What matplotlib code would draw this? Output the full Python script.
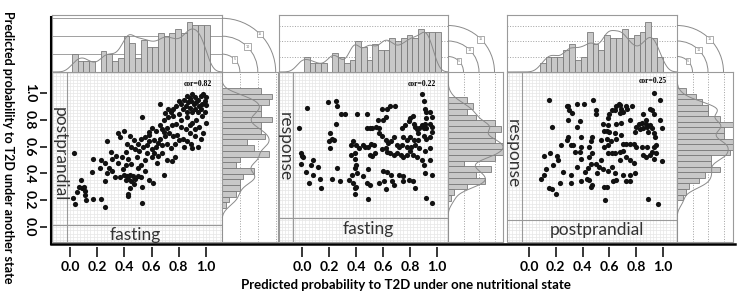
import numpy as np
import matplotlib
matplotlib.use("Agg")
from matplotlib import pyplot as plt
from matplotlib.lines import Line2D
from matplotlib.patches import Rectangle, Arc

plt.rcParams['font.family'] = ['Lato', 'DejaVu Sans']

# ---- data ----
tick_vals = [0.0, 0.2, 0.4, 0.6, 0.8, 1.0]
tick_labels = ['0.0', '0.2', '0.4', '0.6', '0.8', '1.0']
level_counts = [5, 10, 15]

# fasting (x) vs postprandial (y)
p1_pts = np.array([
    (0.86,0.98),(0.88,0.96),(0.90,0.99),(0.92,0.97),(0.94,0.95),(0.96,0.98),(0.98,0.99),(1.00,0.97),
    (0.99,0.94),(0.97,0.92),(0.95,0.90),(0.93,0.93),(0.91,0.92),(0.89,0.94),(0.87,0.93),(0.84,0.95),
    (0.82,0.92),(0.80,0.94),(0.85,0.90),(0.88,0.89),(0.92,0.88),(0.96,0.88),(1.00,0.91),(0.99,0.86),
    (0.94,0.86),(0.90,0.86),(0.86,0.86),(0.83,0.88),(0.78,0.90),(0.76,0.88),(0.74,0.86),(0.72,0.88),
    (0.70,0.85),(0.66,0.92),(0.69,0.80),(0.72,0.82),(0.76,0.83),(0.80,0.84),(0.82,0.80),(0.86,0.82),
    (0.90,0.78),(0.93,0.80),(0.97,0.83),(1.00,0.78),(0.95,0.75),(0.92,0.73),(0.88,0.76),(0.85,0.73),
    (0.82,0.75),(0.78,0.77),(0.75,0.76),(0.71,0.74),(0.68,0.73),(0.66,0.76),(0.63,0.72),(0.60,0.74),
    (0.58,0.71),(0.79,0.69),(0.76,0.68),(0.73,0.70),(0.70,0.68),(0.66,0.66),(0.62,0.65),(0.58,0.64),
    (0.55,0.67),(0.52,0.66),(0.50,0.62),(0.47,0.65),(0.44,0.68),(0.40,0.72),(0.37,0.67),(0.35,0.70),
    (0.42,0.62),(0.45,0.60),(0.48,0.58),(0.51,0.57),(0.54,0.60),(0.57,0.61),(0.60,0.58),(0.63,0.60),
    (0.65,0.63),(0.68,0.61),(0.71,0.62),(0.74,0.59),(0.77,0.62),(0.80,0.65),(0.83,0.66),(0.86,0.64),
    (0.89,0.62),(0.84,0.60),(0.90,0.59),(0.94,0.60),(0.96,0.66),(0.98,0.70),(0.88,0.70),(0.92,0.68),
    (0.62,0.55),(0.65,0.53),(0.68,0.55),(0.71,0.50),(0.75,0.49),(0.77,0.52),(0.60,0.52),(0.57,0.55),
    (0.55,0.50),(0.64,0.48),(0.69,0.39),(0.53,0.82),(0.58,0.69),(0.69,0.71),(0.41,0.56),(0.43,0.51),
    (0.45,0.47),(0.41,0.46),(0.39,0.43),(0.35,0.48),(0.31,0.51),(0.30,0.56),(0.26,0.48),(0.29,0.44),
    (0.27,0.40),(0.31,0.42),(0.33,0.37),(0.37,0.37),(0.40,0.39),(0.42,0.38),(0.44,0.39),(0.46,0.38),
    (0.48,0.36),(0.50,0.38),(0.52,0.37),(0.43,0.36),(0.41,0.35),(0.45,0.34),(0.47,0.32),(0.44,0.29),
    (0.43,0.25),(0.43,0.23),(0.50,0.44),(0.52,0.46),(0.55,0.42),(0.53,0.30),(0.58,0.35),(0.61,0.33),
    (0.53,0.18),(0.26,0.34),(0.22,0.44),(0.23,0.50),(0.17,0.51),(0.16,0.41),(0.27,0.64),(0.34,0.53),
    (0.49,0.52),(0.38,0.52),(0.03,0.55),(0.02,0.22),(0.04,0.17),(0.05,0.26),(0.07,0.30),(0.08,0.35),
    (0.09,0.29),(0.11,0.27),(0.11,0.24),(0.12,0.20),(0.17,0.21),(0.23,0.21),(0.26,0.15),(0.10,0.30)])

# fasting (x) vs response (y)
p2_pts = np.array([
    (-0.02,0.74),(0.04,0.89),(-0.01,0.55),(0.00,0.53),(0.01,0.52),(-0.01,0.47),(0.03,0.41),(0.05,0.33),
    (0.08,0.50),(0.07,0.46),(0.08,0.39),(0.12,0.45),(0.13,0.36),(0.14,0.29),(0.19,0.93),(0.25,0.94),
    (0.26,0.90),(0.29,0.84),(0.32,0.84),(0.25,0.77),(0.21,0.70),(0.22,0.66),(0.24,0.65),(0.20,0.64),
    (0.21,0.59),(0.26,0.44),(0.22,0.36),(0.28,0.34),(0.35,0.35),(0.37,0.39),(0.39,0.44),(0.40,0.46),
    (0.41,0.40),(0.38,0.33),(0.39,0.29),(0.40,0.30),(0.39,0.25),(0.36,0.61),(0.38,0.64),(0.40,0.61),
    (0.42,0.59),(0.39,0.55),(0.36,0.54),(0.39,0.51),(0.41,0.84),(0.48,0.84),(0.48,0.74),(0.50,0.74),
    (0.52,0.74),(0.55,0.75),(0.56,0.80),(0.57,0.74),(0.45,0.61),(0.47,0.60),(0.49,0.60),(0.51,0.62),
    (0.53,0.61),(0.54,0.55),(0.52,0.53),(0.50,0.54),(0.49,0.43),(0.45,0.38),(0.48,0.33),(0.50,0.31),
    (0.49,0.21),(0.57,0.33),(0.61,0.34),(0.59,0.88),(0.63,0.88),(0.65,0.90),(0.69,0.90),(0.62,0.82),
    (0.60,0.80),(0.57,0.70),(0.59,0.68),(0.62,0.65),(0.64,0.63),(0.66,0.64),(0.68,0.67),(0.70,0.61),
    (0.72,0.60),(0.59,0.58),(0.62,0.59),(0.63,0.56),(0.65,0.55),(0.68,0.54),(0.70,0.55),(0.73,0.54),
    (0.75,0.52),(0.78,0.54),(0.80,0.57),(0.60,0.42),(0.63,0.41),(0.66,0.39),(0.67,0.34),(0.72,0.39),
    (0.75,0.38),(0.75,0.34),(0.79,0.35),(0.82,0.34),(0.84,0.29),(0.74,0.74),(0.76,0.76),(0.79,0.79),
    (0.80,0.81),(0.82,0.83),(0.83,0.77),(0.84,0.75),(0.85,0.73),(0.86,0.70),(0.87,0.74),(0.89,0.76),
    (0.90,0.74),(0.91,0.77),(0.92,0.74),(0.95,0.77),(0.96,0.75),(0.96,0.71),(0.95,0.67),(0.92,0.66),
    (0.90,0.68),(0.86,0.65),(0.83,0.65),(0.80,0.67),(0.78,0.65),(0.75,0.67),(0.74,0.61),(0.78,0.60),
    (0.81,0.60),(0.84,0.61),(0.87,0.59),(0.91,0.57),(0.95,0.59),(0.82,0.54),(0.85,0.52),(0.89,0.50),
    (0.90,0.46),(0.95,0.50),(0.96,0.39),(0.91,0.40),(0.89,0.99),(0.90,0.94),(0.91,0.88),(0.95,0.86),
    (0.96,0.82),(0.92,0.86),(0.92,0.81),(0.92,0.22),(0.96,0.18),(0.62,0.28),(0.68,0.31)])

# postprandial (x) vs response (y)
p3_pts = np.array([
    (0.93,1.00),(0.98,0.95),(0.15,0.95),(0.48,0.95),(0.28,0.90),(0.29,0.90),(0.36,0.92),(0.41,0.92),
    (0.30,0.87),(0.32,0.85),(0.50,0.87),(0.50,0.84),(0.67,0.92),(0.68,0.91),(0.65,0.90),(0.64,0.87),
    (0.69,0.88),(0.72,0.90),(0.73,0.88),(0.77,0.90),(0.70,0.86),(0.68,0.85),(0.62,0.87),(0.60,0.84),
    (0.29,0.80),(0.38,0.79),(0.36,0.75),(0.55,0.77),(0.59,0.81),(0.59,0.76),(0.65,0.77),(0.69,0.78),
    (0.75,0.80),(0.85,0.84),(0.87,0.80),(0.90,0.88),(0.92,0.87),(0.93,0.84),(0.98,0.80),(0.17,0.75),
    (0.80,0.75),(0.82,0.77),(0.84,0.78),(0.87,0.77),(0.88,0.75),(0.90,0.76),(0.92,0.74),(0.85,0.74),
    (0.83,0.73),(0.79,0.71),(0.89,0.71),(0.93,0.70),(0.99,0.74),(0.94,0.67),(0.29,0.67),(0.28,0.65),
    (0.31,0.61),(0.33,0.61),(0.24,0.61),(0.39,0.67),(0.39,0.60),(0.45,0.60),(0.46,0.64),(0.47,0.67),
    (0.54,0.65),(0.56,0.72),(0.58,0.72),(0.60,0.71),(0.64,0.70),(0.65,0.66),(0.69,0.69),(0.70,0.62),
    (0.72,0.62),(0.75,0.62),(0.78,0.62),(0.80,0.60),(0.58,0.66),(0.61,0.64),(0.56,0.60),(0.59,0.61),
    (0.11,0.53),(0.16,0.55),(0.21,0.53),(0.22,0.50),(0.18,0.46),(0.13,0.43),(0.11,0.39),(0.09,0.36),
    (0.15,0.29),(0.17,0.28),(0.20,0.25),(0.23,0.33),(0.25,0.41),(0.34,0.56),(0.38,0.56),(0.39,0.51),
    (0.36,0.45),(0.31,0.39),(0.31,0.33),(0.39,0.34),(0.42,0.41),(0.44,0.44),(0.46,0.47),(0.45,0.52),
    (0.47,0.55),(0.43,0.36),(0.45,0.35),(0.46,0.30),(0.47,0.31),(0.51,0.40),(0.52,0.45),(0.50,0.47),
    (0.55,0.43),(0.59,0.42),(0.62,0.45),(0.64,0.40),(0.65,0.35),(0.63,0.34),(0.70,0.39),(0.72,0.34),
    (0.75,0.34),(0.75,0.39),(0.79,0.40),(0.56,0.30),(0.58,0.30),(0.57,0.20),(0.59,0.55),(0.62,0.55),
    (0.64,0.55),(0.68,0.56),(0.70,0.57),(0.72,0.52),(0.68,0.50),(0.75,0.50),(0.78,0.48),(0.54,0.50),
    (0.84,0.60),(0.88,0.60),(0.93,0.60),(0.95,0.61),(0.85,0.54),(0.87,0.52),(0.90,0.54),(0.93,0.51),
    (0.95,0.55),(0.99,0.49),(0.92,0.56),(0.89,0.21),(0.96,0.17)])

# marginal histogram counts (left to right / bottom to top) and bin ranges
fasting_counts = [5, 3, 3, 3, 0, 6, 5, 3, 4, 10, 8, 4, 9, 7, 7, 11, 10, 11, 12, 11, 14, 13, 13, 13]
fasting_range = (0.015, 1.027)
post_top_counts = [3, 5, 5, 5, 7, 9, 4, 5, 13, 9, 7, 12, 11, 11, 14, 11, 12, 13, 16, 11, 5]
post_top_range = (0.08, 1.0)
post_right_counts = [1, 2, 4, 5, 5, 6, 9, 4, 5, 13, 9, 7, 12, 11, 11, 14, 11, 11, 13, 14, 11]
post_right_range = (0.142, 1.037)
resp2_counts = [1, 2, 6, 12, 9, 14, 5, 15, 18, 19, 15, 15, 17, 15, 9, 6, 8, 6]
resp2_range = (0.196, 0.968)
resp3_counts = [2, 3, 4, 7, 9, 14, 11, 11, 17, 18, 19, 15, 15, 19, 14, 10, 10, 8, 6, 3]
resp3_range = (0.20, 1.037)

cor_texts = ['cor=0.82', 'cor=0.22', 'cor=0.25']
x_names = ['fasting', 'fasting', 'postprandial']
y_names = ['postprandial', 'response', 'response']

# ---- layout (pixels) ----
W, H = 738, 294
Y_TOP, Y_MID, Y_BOT = 15, 72, 242
YLIM = (-0.112, 1.157)

panels = [
    dict(pts=p1_pts, x0=52, x1=222, x2=278, xlim=(-0.132, 1.118), scale=3.58,
         top=(fasting_counts, fasting_range), right=(post_right_counts, post_right_range),
         vl=-0.022, hl=0.015, xlab=(0.48, -0.058), ylab=(-0.077, 0.54), cor=(0.94, 1.07),
         top_ls='-'),
    dict(pts=p2_pts, x0=279, x1=448, x2=503, xlim=(-0.170, 1.081), scale=3.1,
         top=(fasting_counts, fasting_range), right=(resp2_counts, resp2_range),
         vl=-0.067, hl=0.067, xlab=(0.49, -0.018), ylab=(-0.126, 0.60), cor=(0.89, 1.07),
         top_ls=':'),
    dict(pts=p3_pts, x0=507, x1=677, x2=733, xlim=(-0.164, 1.104), scale=3.1,
         top=(post_top_counts, post_top_range), right=(resp3_counts, resp3_range),
         vl=-0.052, hl=0.052, xlab=(0.51, -0.022), ylab=(-0.12, 0.55), cor=(0.92, 1.09),
         top_ls=':'),
]

BAR_FC, BAR_EC = '#c8c8c8', '#7a7a7a'
LINE_C = '#a0a0a0'
FRAME_C = '#9a9a9a'


def box(x0, y0, x1, y1):
    return [x0 / W, 1 - y1 / H, (x1 - x0) / W, (y1 - y0) / H]


def kde(vals, grid, bw=0.04):
    d = (grid[:, None] - np.asarray(vals)[None, :]) / bw
    return np.exp(-0.5 * d ** 2).sum(1) / (len(vals) * bw * np.sqrt(2 * np.pi))


def frame(ax):
    for s in ax.spines.values():
        s.set_color(FRAME_C)
        s.set_linewidth(0.8)
    ax.set_xticks([])
    ax.set_yticks([])


fig = plt.figure(figsize=(W / 100, H / 100), dpi=100)

for i, p in enumerate(panels):
    x0, x1, x2, sc = p['x0'], p['x1'], p['x2'], p['scale']
    xs, ys = p['pts'][:, 0], p['pts'][:, 1]

    # scatter
    ax = fig.add_axes(box(x0, Y_MID, x1, Y_BOT))
    ax.set_xticks(np.arange(-0.2, 1.21, 0.025), minor=True)
    ax.set_yticks(np.arange(-0.2, 1.21, 0.025), minor=True)
    ax.set_xticks(tick_vals)
    ax.set_yticks(tick_vals)
    ax.grid(True, which='both', color='#e6e6e6', lw=0.5)
    ax.set_axisbelow(True)
    ax.scatter(xs, ys, s=14, c='#111111', lw=0, zorder=3)
    ax.axvline(p['vl'], color=FRAME_C, lw=0.8)
    ax.axhline(p['hl'], color=FRAME_C, lw=0.8)
    for s in ax.spines.values():
        s.set_visible(False)
    ax.add_patch(Rectangle((0, 0), 1, 1, transform=ax.transAxes, fill=False,
                           ec=FRAME_C, lw=0.8, clip_on=False, zorder=4))
    ax.spines['bottom'].set_position(('outward', 3.6))
    ax.set_xticklabels(tick_labels, fontweight='bold', fontsize=10)
    ax.tick_params(axis='x', which='major', direction='out', length=7.2, width=1.1,
                   color='k', pad=3.0)
    ax.tick_params(which='minor', length=0)
    if i == 0:
        ax.spines['left'].set_position(('outward', 3.6))
        ax.set_yticklabels(tick_labels, fontweight='bold', fontsize=10,
                           rotation=270, va='center')
        ax.tick_params(axis='y', which='major', direction='out', length=5,
                       width=1.1, color='k', pad=3)
    else:
        ax.tick_params(axis='y', left=False, labelleft=False)
    ax.set_xlim(p['xlim'])
    ax.set_ylim(YLIM)

    ax.text(*p['xlab'], x_names[i], fontsize=12.5, color='#333333',
            ha='center', va='center', zorder=5)
    ax.text(*p['ylab'], y_names[i], fontsize=12.5, color='#333333', rotation=270,
            ha='center', va='center', zorder=5)
    ax.text(*p['cor'], cor_texts[i], fontsize=5.5, family='Liberation Serif',
            fontweight='bold', ha='center', va='center', zorder=5)

    # top histogram
    cnt, rng = p['top']
    edges = np.linspace(rng[0], rng[1], len(cnt) + 1)
    at = fig.add_axes(box(x0, Y_TOP, x1, Y_MID))
    for c in level_counts:
        at.axhline(c, color=LINE_C, lw=0.7, ls=p['top_ls'], zorder=0)
    at.bar(edges[:-1], cnt, width=np.diff(edges), align='edge',
           color=BAR_FC, ec=BAR_EC, lw=0.6, zorder=2)
    g = np.linspace(p['xlim'][0], p['xlim'][1], 300)
    at.plot(g, kde(xs, g) * sum(cnt) * (edges[1] - edges[0]), color='#8a8a8a',
            lw=0.7, zorder=3)
    frame(at)
    at.set_xlim(p['xlim'])
    at.set_ylim(0, (Y_MID - Y_TOP) / sc)

    # right histogram
    cnt, rng = p['right']
    edges = np.linspace(rng[0], rng[1], len(cnt) + 1)
    ar = fig.add_axes(box(x1, Y_MID, x2, Y_BOT))
    for c in level_counts:
        ar.axvline(c, color=LINE_C, lw=0.7, ls=':', zorder=0)
    ar.barh(edges[:-1], cnt, height=np.diff(edges), align='edge',
            color=BAR_FC, ec=BAR_EC, lw=0.6, zorder=2)
    g = np.linspace(YLIM[0], YLIM[1], 300)
    ar.plot(kde(ys, g) * sum(cnt) * (edges[1] - edges[0]), g, color='#8a8a8a',
            lw=0.7, zorder=3)
    frame(ar)
    ar.set_ylim(YLIM)
    ar.set_xlim(0, (x2 - x1) / sc)

    # corner: count arcs linking the two histograms
    ac = fig.add_axes(box(x1, Y_TOP, x2, Y_MID))
    ac.set_xlim(0, (x2 - x1) / sc)
    ac.set_ylim(0, (Y_MID - Y_TOP) / sc)
    ac.axis('off')
    for c in level_counts:
        ac.add_patch(Arc((0, 0), 2 * c, 2 * c, theta1=0, theta2=90,
                         color='#8a8a8a', lw=0.7))
        ac.text(c * np.cos(np.pi / 4), c * np.sin(np.pi / 4), str(c), fontsize=2.5,
                ha='center', va='center', color='#666666',
                bbox=dict(boxstyle='square,pad=0.4', fc='white', ec='#8a8a8a', lw=0.5))

# outer axis lines and labels
fig.add_artist(Line2D([51 / W, 735 / W], [1 - 244 / H, 1 - 244 / H], color='k', lw=1.8))
fig.add_artist(Line2D([51 / W, 51 / W], [1 - 17 / H, 1 - 244 / H], color='k', lw=1.5))
fig.text(8 / W, 1 - 147 / H, 'Predicted probability to T2D under another state',
         rotation=270, ha='center', va='center', fontsize=9, fontweight='bold')
fig.text(406 / W, 1 - 285 / H, 'Predicted probability to T2D under one nutritional state',
         ha='center', va='center', fontsize=9.5, fontweight='bold')

fig.savefig('out.png', dpi=100)
